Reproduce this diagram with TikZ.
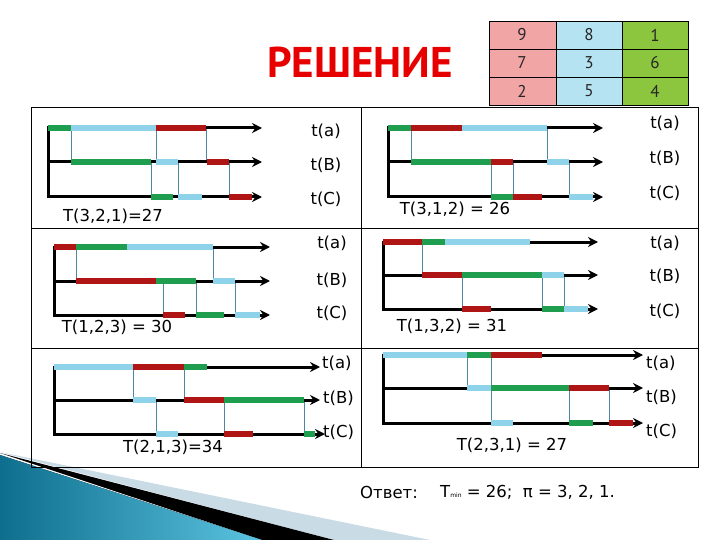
\documentclass[tikz,border=0pt]{standalone}
\usepackage{fontspec}
\setmainfont{DejaVu Sans}
\newfontfamily\titlefont{PT Sans}
\usepackage{tikz}
\usetikzlibrary{arrows.meta}
\definecolor{barred}{HTML}{B01515}
\definecolor{bargreen}{HTML}{1E9E4E}
\definecolor{barblue}{HTML}{8ED3EA}
\definecolor{linkcol}{HTML}{4F86A0}
\definecolor{cellred}{HTML}{F2A5A5}
\definecolor{cellblue}{HTML}{B5E3F2}
\definecolor{cellgreen}{HTML}{8CC63E}
\definecolor{titlered}{HTML}{E60000}
\definecolor{tealdark}{HTML}{0E6E8E}
\definecolor{teallight}{HTML}{5BC3E0}
\definecolor{bandgray}{HTML}{C9DCE5}

\begin{document}
\begin{tikzpicture}[x=1pt,y=-1pt,
    axisline/.style={line width=3pt,-{Stealth[length=10pt,width=10pt]}},
    stem/.style={line width=3pt},
    link/.style={linkcol,line width=0.8pt},
    jobred/.style={barred,line width=5.5pt},
    jobgreen/.style={bargreen,line width=5.5pt},
    jobblue/.style={barblue,line width=5.5pt},
    frameline/.style={line width=0.8pt},
    lbl/.style={font=\fontsize{16.5}{18}\selectfont,inner sep=0pt},
    cell/.style={font=\titlefont\fontsize{17}{19}\selectfont,text=black!85,inner sep=0pt}]

    \useasboundingbox (0,0) rectangle (720,540);

    % decoration bottom left
    \fill[bandgray] (0,452) -- (430,540) -- (334,540) -- cycle;
    \fill[black] (0,453) -- (334,540) -- (262,540) -- cycle;
    \fill[left color=tealdark,right color=teallight] (0,455) -- (262,540) -- (0,540) -- cycle;

    % title and table
    \node[font=\titlefont\bfseries\fontsize{43}{46}\selectfont,text=titlered] (title) at (360,62) {РЕШЕНИЕ};

    \fill[cellred] (489,21) rectangle (556,105);
    \fill[cellblue] (556,21) rectangle (622,105);
    \fill[cellgreen] (622,21) rectangle (688,105);
    \draw[frameline] (489,21) rectangle (688,105);
    \draw[frameline] (556,21) -- (556,105);
    \draw[frameline] (622,21) -- (622,105);
    \draw[frameline] (489,49) -- (688,49);
    \draw[frameline] (489,77) -- (688,77);
    \node[cell] (c11) at (522,35) {9};
    \node[cell] (c12) at (589,35) {8};
    \node[cell] (c13) at (655,35) {1};
    \node[cell] (c21) at (522,63) {7};
    \node[cell] (c22) at (589,63) {3};
    \node[cell] (c23) at (655,63) {6};
    \node[cell] (c31) at (522,91) {2};
    \node[cell] (c32) at (589,91) {5};
    \node[cell] (c33) at (655,91) {4};

    % frame
    \draw[frameline] (31,107) rectangle (698,467);
    \draw[frameline] (361,107) -- (361,467);
    \draw[frameline] (31,228) -- (698,228);
    \draw[frameline] (31,348) -- (698,348);

    % T(3,2,1)
    \draw[link] (71,128) -- (71,162);
    \draw[link] (156,128) -- (156,162);
    \draw[link] (206,128) -- (206,162);
    \draw[link] (151,162) -- (151,197);
    \draw[link] (178,162) -- (178,197);
    \draw[link] (229,162) -- (229,197);
    \draw[stem] (48,126.5) -- (48,198.5);
    \draw[axisline] (48,128) -- (262,128);
    \draw[axisline] (48,162) -- (262,162);
    \draw[axisline] (48,197) -- (262,197);
    \draw[jobgreen] (48,128) -- (71,128);
    \draw[jobblue] (71,128) -- (156,128);
    \draw[jobred] (156,128) -- (206,128);
    \draw[jobgreen] (71,162) -- (151,162);
    \draw[jobblue] (156,162) -- (178,162);
    \draw[jobred] (207,162) -- (229,162);
    \draw[jobgreen] (151,197) -- (173,197);
    \draw[jobblue] (178,197) -- (202,197);
    \draw[jobred] (229,197) -- (252,197);
    \node[lbl] (ta1) at (326,131) {t(a)};
    \node[lbl] (tb1) at (326,165) {t(B)};
    \node[lbl] (tc1) at (326,199) {t(C)};
    \node[lbl] (res1) at (113,216) {T(3,2,1)=27};

    % T(3,1,2)
    \draw[link] (411,128) -- (411,162);
    \draw[link] (547,128) -- (547,162);
    \draw[link] (491,162) -- (491,197);
    \draw[link] (513,162) -- (513,197);
    \draw[link] (569,162) -- (569,197);
    \draw[stem] (388,126.5) -- (388,198.5);
    \draw[axisline] (388,128) -- (603,128);
    \draw[axisline] (388,162) -- (603,162);
    \draw[axisline] (388,197) -- (603,197);
    \draw[jobgreen] (388,128) -- (411,128);
    \draw[jobred] (411,128) -- (462,128);
    \draw[jobblue] (462,128) -- (547,128);
    \draw[jobgreen] (411,162) -- (491,162);
    \draw[jobred] (491,162) -- (513,162);
    \draw[jobblue] (547,162) -- (569,162);
    \draw[jobgreen] (491,197) -- (513,197);
    \draw[jobred] (513,197) -- (542,197);
    \draw[jobblue] (569,197) -- (593,197);
    \node[lbl] (ta2) at (665,123) {t(a)};
    \node[lbl] (tb2) at (665,158) {t(B)};
    \node[lbl] (tc2) at (665,193) {t(C)};
    \node[lbl] (res2) at (455,209) {T(3,1,2) = 26};

    % T(1,2,3)
    \draw[link] (76,247) -- (76,281);
    \draw[link] (213,247) -- (213,281);
    \draw[link] (163,281) -- (163,315);
    \draw[link] (196,281) -- (196,315);
    \draw[link] (235,281) -- (235,315);
    \draw[stem] (54,245.5) -- (54,316.5);
    \draw[axisline] (54,247) -- (270,247);
    \draw[axisline] (54,281) -- (270,281);
    \draw[axisline] (54,315) -- (270,315);
    \draw[jobred] (54,247) -- (76,247);
    \draw[jobgreen] (76,247) -- (127,247);
    \draw[jobblue] (127,247) -- (213,247);
    \draw[jobred] (76,281) -- (156,281);
    \draw[jobgreen] (156,281) -- (196,281);
    \draw[jobblue] (213,281) -- (235,281);
    \draw[jobred] (163,315) -- (185,315);
    \draw[jobgreen] (196,315) -- (224,315);
    \draw[jobblue] (235,315) -- (260,315);
    \node[lbl] (ta3) at (332,243) {t(a)};
    \node[lbl] (tb3) at (332,280) {t(B)};
    \node[lbl] (tc3) at (332,313) {t(C)};
    \node[lbl] (res3) at (117,327) {T(1,2,3) = 30};

    % T(1,3,2)
    \draw[link] (422,242) -- (422,275);
    \draw[link] (462,275) -- (462,309);
    \draw[link] (542,275) -- (542,309);
    \draw[link] (564,275) -- (564,309);
    \draw[stem] (383,240.5) -- (383,310.5);
    \draw[axisline] (383,242) -- (598,242);
    \draw[axisline] (383,275) -- (598,275);
    \draw[axisline] (383,309) -- (598,309);
    \draw[jobred] (383,242) -- (422,242);
    \draw[jobgreen] (422,242) -- (445,242);
    \draw[jobblue] (445,242) -- (530,242);
    \draw[jobred] (422,275) -- (462,275);
    \draw[jobgreen] (462,275) -- (542,275);
    \draw[jobblue] (542,275) -- (564,275);
    \draw[jobred] (462,309) -- (491,309);
    \draw[jobgreen] (542,309) -- (564,309);
    \draw[jobblue] (564,309) -- (588,309);
    \node[lbl] (ta4) at (665,243) {t(a)};
    \node[lbl] (tb4) at (665,276) {t(B)};
    \node[lbl] (tc4) at (665,311) {t(C)};
    \node[lbl] (res4) at (452,326) {T(1,3,2) = 31};

    % T(2,1,3)
    \draw[link] (133,367) -- (133,400);
    \draw[link] (184,367) -- (184,400);
    \draw[link] (156,400) -- (156,434);
    \draw[link] (224,400) -- (224,434);
    \draw[link] (304,400) -- (304,434);
    \draw[stem] (54,365.5) -- (54,435.5);
    \draw[axisline] (54,367) -- (320,367);
    \draw[axisline] (54,400) -- (320,400);
    \draw[axisline] (54,434) -- (325,434);
    \draw[jobblue] (54,367) -- (133,367);
    \draw[jobred] (133,367) -- (184,367);
    \draw[jobgreen] (184,367) -- (207,367);
    \draw[jobblue] (133,400) -- (156,400);
    \draw[jobred] (184,400) -- (224,400);
    \draw[jobgreen] (224,400) -- (304,400);
    \draw[jobblue] (156,434) -- (178,434);
    \draw[jobred] (224,434) -- (253,434);
    \draw[jobgreen] (304,434) -- (315,434);
    \node[lbl,anchor=west] (ta5) at (322,363) {t(a)};
    \node[lbl,anchor=west] (tb5) at (323,398) {t(B)};
    \node[lbl,anchor=west] (tc5) at (323,432) {t(C)};
    \node[lbl] (res5) at (173,447) {T(2,1,3)=34};

    % T(2,3,1)
    \draw[link] (467,355) -- (467,388);
    \draw[link] (491,355) -- (491,423);
    \draw[link] (569,388) -- (569,423);
    \draw[link] (609,388) -- (609,423);
    \draw[stem] (383,353.5) -- (383,424.5);
    \draw[axisline] (383,355) -- (643,355);
    \draw[axisline] (383,388) -- (643,388);
    \draw[axisline] (383,423) -- (643,423);
    \draw[jobblue] (383,355) -- (467,355);
    \draw[jobgreen] (467,355) -- (491,355);
    \draw[jobred] (491,355) -- (542,355);
    \draw[jobblue] (467,388) -- (491,388);
    \draw[jobgreen] (491,388) -- (569,388);
    \draw[jobred] (569,388) -- (609,388);
    \draw[jobblue] (491,423) -- (513,423);
    \draw[jobgreen] (569,423) -- (593,423);
    \draw[jobred] (609,423) -- (633,423);
    \node[lbl,anchor=west] (ta6) at (646,363) {t(a)};
    \node[lbl,anchor=west] (tb6) at (646,397) {t(B)};
    \node[lbl,anchor=west] (tc6) at (646,431) {t(C)};
    \node[lbl] (res6) at (512,445) {T(2,3,1) = 27};

    % answer
    \node[lbl,anchor=west] (ans) at (360,492) {Ответ:};
    \node[lbl,anchor=west] (tmin) at (440,492) {T{\fontsize{6}{7}\selectfont min} = 26;\ \ π = 3, 2, 1.};
\end{tikzpicture}
\end{document}
